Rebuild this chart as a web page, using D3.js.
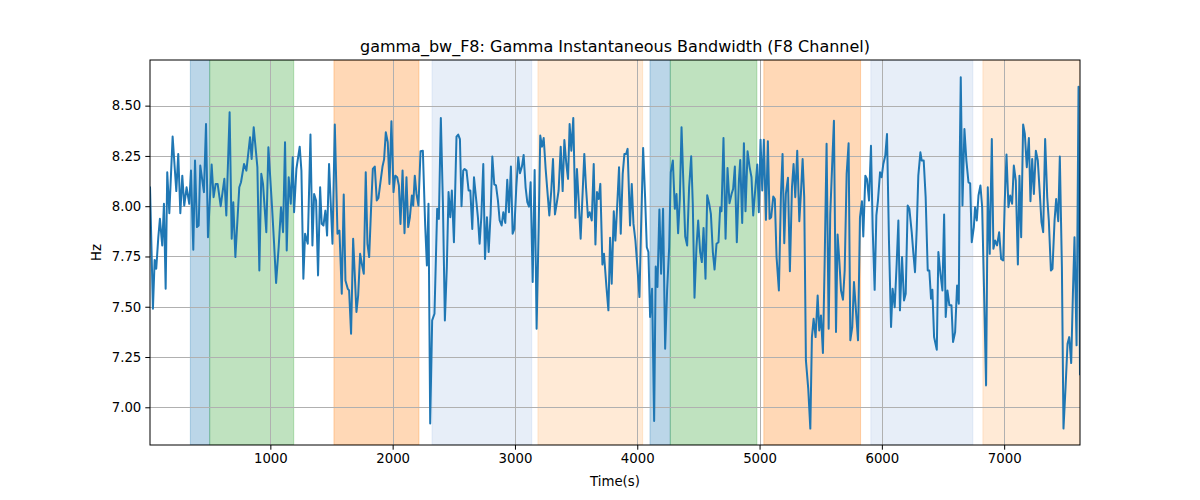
<!DOCTYPE html>
<html>
<head>
<meta charset="utf-8">
<script src="https://cdn.jsdelivr.net/npm/d3@7"></script>
<style>
  html, body { margin: 0; padding: 0; background: #fff; }
  svg { display: block; font-family: "DejaVu Sans", sans-serif; }
</style>
</head>
<body>
<svg id="chart" width="1200" height="500"></svg>
<script>
// ---- data ----
const times = [
16,40,54,67,84,97,116,130,144,157,174,201,231,247,264,280,296,315,337,351,370,384,400,414,427,457,474,490,520,536,553,569,594,624,640,667,684,697,714,746,760,785,804,834,847,864,894,910,926,940,967,984,1014,1030,1047,1068,1087,1104,1120,1134,1150,1167,1183,1194,1213,1240,1254,1270,1284,
1306,1328,1344,1358,1374,1390,1407,1420,1434,1450,1464,1480,1508,1527,1549,1565,1584,1600,1614,1633,1644,1660,1677,1704,1718,1734,1748,1764,1780,1794,1808,1824,1838,1854,1870,1884,1900,1917,1930,1944,1960,1974,1990,2007,2021,2037,2051,2064,2081,2097,2113,2127,2141,2157,2168,2181,2195,2211,2228,2247,2266,2280,2293,2307,2323,2342,2364,2378,2394,2411,2427,2443,2457,2471,2484,2501,2522,2536,2550,2563,2577,2588,
2604,2621,2635,2651,2665,2681,2697,2711,2725,2741,2755,2771,2785,2801,2815,2831,2845,2861,2875,2891,2905,2921,2937,2951,2967,2981,2995,3011,3027,3041,3057,3071,3087,3101,3115,3128,3145,3161,3177,3194,3207,3221,3235,3251,3267,3281,3297,3311,3327,3341,3357,3374,3390,3404,3420,3434,3447,3461,3477,3494,3507,3521,3537,3567,3581,3597,3611,3628,3644,3658,3671,3685,3698,3715,3728,3748,3764,3778,3791,3808,3821,3838,3851,
3865,3881,3895,3909,3921,3941,3955,3969,3985,4001,4018,4031,4048,4064,4078,4091,4105,4121,4138,4151,4165,4181,4195,4211,4228,4244,4261,4274,4291,4307,4321,4334,4348,4362,4378,4392,4408,4424,4441,4454,4468,4484,4498,4514,4528,4542,4558,4572,4588,4602,4618,4632,4648,4664,4678,4689,4705,4722,4738,4754,4771,4784,4798,4814,4831,4842,4858,4872,4885,4902,4918,4934,4948,4964,4981,4994,5008,5022,5035,5052,5068,5082,5095,5112,5125,
5139,5158,5175,5188,5202,5215,5232,5248,5265,5278,5292,5308,5325,5338,5352,5365,5379,5398,5415,5428,5442,5458,5475,5488,5502,5518,5532,5548,5565,5578,5595,5608,5625,5638,5652,5666,5682,5696,5712,5728,5742,5758,5772,5788,5805,5821,5837,5848,5865,5878,5895,5911,5925,5941,5955,5968,5985,5998,6012,6028,6042,6058,6075,6088,6105,6121,6135,6148,6165,6181,6195,6211,6225,6244,6258,6271,6285,6298,6315,6326,6342,6358,6375,6388,
6402,6413,6427,6449,6462,6479,6495,6509,6522,6536,6552,6569,6582,6599,6615,6629,6637,6645,6659,6675,6691,6708,6722,6735,6752,6762,6776,6790,6806,6820,6836,6852,6866,6882,6899,6912,6926,6942,6959,6975,6992,7005,7019,7035,7049,7065,7079,7095,7112,7125,7139,7155,7169,7185,7202,7215,7229,7243,7259,7275,7289,7305,7319,7335,7352,7365,7382,7395,7412,7425,7442,7455,7472,7485,7502,7518,7532,7548,7562,7575,7592,7608,7620
];
const values = [
8.098,7.490,7.733,7.689,7.846,7.937,7.805,8.012,7.589,8.169,7.965,8.346,8.075,8.260,7.965,8.152,8.003,8.094,8.012,8.177,7.783,8.227,7.896,7.904,8.202,8.070,8.409,7.846,8.207,8.045,8.111,8.111,8.000,8.136,7.954,8.467,7.838,8.020,7.747,8.094,8.119,8.210,8.177,8.343,8.235,8.392,8.194,7.680,8.161,8.111,7.871,8.293,7.995,7.821,7.618,7.796,7.995,7.871,8.318,7.780,8.144,8.012,8.243,7.970,8.185,8.296,8.177,7.639,7.863,
7.813,8.356,7.805,8.061,8.028,7.656,8.094,7.912,7.904,7.978,7.854,8.210,7.813,8.406,7.863,7.879,7.565,8.058,7.631,7.589,7.581,7.366,7.838,7.474,7.556,7.763,7.714,7.664,8.169,7.813,7.747,7.995,8.185,8.197,8.028,8.041,8.119,8.197,8.233,8.368,8.318,8.111,8.422,8.070,8.152,8.144,8.103,7.912,8.177,7.866,8.144,7.896,7.945,8.053,8.003,8.152,8.061,8.003,8.273,8.276,7.904,7.705,8.012,6.919,7.432,7.465,7.987,7.937,8.439,8.012,7.432,7.697,8.070,7.945,8.078,7.821,8.346,8.356,8.334,8.000,8.177,8.185,
8.177,8.078,8.078,7.887,8.144,8.045,7.945,7.813,7.945,8.210,7.738,7.945,7.772,7.962,8.247,8.108,8.103,8.028,7.929,7.904,7.970,7.917,8.131,7.970,8.197,7.863,7.887,8.094,8.243,8.164,8.197,8.255,8.094,8.020,7.998,8.119,7.623,8.180,7.391,7.896,8.351,8.296,8.339,8.185,8.061,7.954,8.078,8.235,7.959,8.012,8.078,8.296,8.075,8.329,8.210,8.136,8.409,8.276,8.439,7.942,8.185,8.028,7.838,8.260,8.094,7.945,7.970,7.929,8.210,7.810,8.070,8.036,8.111,7.710,7.763,7.598,7.482,7.843,7.614,7.975,7.829,8.028,8.194,
7.863,8.161,8.260,8.260,8.285,7.904,8.111,7.912,7.829,7.697,7.548,7.887,8.290,8.045,7.796,7.772,7.449,7.589,6.932,7.700,7.598,7.983,7.664,7.987,7.291,7.581,7.796,8.169,8.227,7.987,8.061,7.866,8.036,8.392,8.098,7.849,7.805,8.094,8.248,8.012,7.545,7.796,7.929,7.772,7.722,7.892,7.639,8.055,8.012,7.962,7.772,7.685,7.813,7.821,7.995,7.975,8.339,7.838,8.190,8.015,8.061,8.086,8.197,7.821,8.127,8.230,7.916,8.313,7.975,8.273,8.197,8.144,7.954,8.078,8.207,7.970,8.331,8.078,8.331,7.932,8.323,7.937,7.945,8.048,8.036,
7.747,7.581,8.061,8.260,7.816,8.061,8.141,7.677,8.094,8.210,8.045,8.276,7.925,8.061,8.235,8.045,7.233,7.093,6.894,7.349,7.440,7.349,7.556,7.382,7.457,7.270,7.714,8.310,7.391,7.962,8.227,8.425,7.374,7.859,7.730,7.581,7.535,7.680,8.161,8.313,7.333,7.399,7.623,7.482,7.333,7.945,8.025,7.849,8.152,8.136,8.028,8.301,7.887,7.584,7.954,8.028,8.169,8.144,8.210,8.252,8.359,7.829,7.399,7.589,7.498,7.714,7.929,7.482,7.747,7.531,7.565,8.003,7.987,7.871,7.763,7.672,7.887,8.152,8.268,8.227,8.227,8.045,7.680,7.680,
7.540,7.584,7.349,7.286,7.772,7.664,7.581,7.959,7.449,7.581,7.507,7.507,7.325,7.374,7.606,7.515,8.243,8.641,8.003,8.384,8.227,8.119,8.114,7.821,7.896,7.995,7.929,8.053,8.103,7.995,7.565,7.109,8.094,7.763,8.334,7.788,7.829,7.805,7.871,7.738,7.730,8.028,8.257,7.995,8.053,8.012,8.202,8.127,7.710,8.152,7.846,8.406,8.359,8.194,8.339,8.025,8.235,8.061,8.276,8.227,8.086,7.921,7.871,8.334,8.045,7.929,7.680,7.689,7.929,8.036,7.925,8.247,7.697,6.894,7.101,7.316,7.349,7.220,7.565,7.846,7.308,8.594,7.159
];
// shaded phases
const spanStarts = [346, 504, 1520, 2322, 3188, 4104, 4270, 5035, 5910, 6826];
const spanEnds   = [504, 1191, 2215, 3137, 4044, 4270, 4978, 5826, 6744, 7620];
const spanKinds  = ["blue","green","orange","lightblue","lightorange","blue","green","orange","lightblue","lightorange"];
const xTicks = [1000, 2000, 3000, 4000, 5000, 6000, 7000];
const yTicks = [7.00, 7.25, 7.50, 7.75, 8.00, 8.25, 8.50];
const titleText = "gamma_bw_F8: Gamma Instantaneous Bandwidth (F8 Channel)";
const xLabel = "Time(s)";
const yLabel = "Hz";

// ---- drawing ----
const spanColor = {blue:"#1f77b4", green:"#2ca02c", orange:"#ff7f0e", lightblue:"#aec7e8", lightorange:"#ffbb78"};
const L = 150, R = 1080, T = 60, B = 445;
const svg = d3.select("#chart");
const x = d3.scaleLinear().domain([times[0], times[times.length-1]]).range([L, R]);
const y = d3.scaleLinear().domain([6.8125, 8.727]).range([B, T]);

const data = times.map((t, i) => ({t, v: values[i]}));

svg.append("defs").append("clipPath").attr("id","clip")
  .append("rect").attr("x", L).attr("y", T).attr("width", R-L).attr("height", B-T);

const plot = svg.append("g").attr("clip-path","url(#clip)");

// spans
plot.selectAll("rect.span").data(spanStarts.map((s,i)=>({s, e: spanEnds[i], k: spanKinds[i]})))
  .enter().append("rect")
  .attr("x", d => x(d.s)).attr("width", d => x(d.e) - x(d.s))
  .attr("y", T).attr("height", B - T)
  .attr("fill", d => spanColor[d.k]).attr("fill-opacity", 0.3)
  .attr("stroke", d => spanColor[d.k]).attr("stroke-opacity", 0.3).attr("stroke-width", 1);

// grid
plot.selectAll("line.gx").data(xTicks).enter().append("line")
  .attr("x1", d => Math.round(x(d)) + 0.5).attr("x2", d => Math.round(x(d)) + 0.5)
  .attr("y1", T).attr("y2", B).attr("stroke", "#b0b0b0").attr("stroke-width", 1);
plot.selectAll("line.gy").data(yTicks).enter().append("line")
  .attr("y1", d => Math.round(y(d)) + 0.5).attr("y2", d => Math.round(y(d)) + 0.5)
  .attr("x1", L).attr("x2", R).attr("stroke", "#b0b0b0").attr("stroke-width", 1);

// line
plot.append("path").datum(data)
  .attr("d", d3.line().x(d => x(d.t)).y(d => y(d.v)))
  .attr("fill", "none").attr("stroke", "#1f77b4").attr("stroke-width", 2)
  .attr("stroke-linejoin", "round").attr("stroke-linecap", "butt");

// axes
const xAxis = svg.append("g").attr("transform", `translate(0,${B})`)
  .call(d3.axisBottom(x).tickValues(xTicks).tickSize(4.7).tickPadding(4).tickFormat(d3.format("d")));
const yAxis = svg.append("g").attr("transform", `translate(${L},0)`)
  .call(d3.axisLeft(y).tickValues(yTicks).tickSize(4.7).tickPadding(4).tickFormat(d3.format(".2f")));
[xAxis, yAxis].forEach(g => {
  g.select(".domain").remove();
  g.selectAll("text").attr("font-size", "13.3px").attr("font-family", "DejaVu Sans, sans-serif").attr("fill", "#000");
  g.selectAll("line").attr("stroke", "#000").attr("stroke-width", 1);
});

// spines
svg.append("rect").attr("x", L).attr("y", T).attr("width", R - L).attr("height", B - T)
  .attr("fill", "none").attr("stroke", "#000").attr("stroke-width", 1);

// texts
svg.append("text").attr("x", (L + R) / 2).attr("y", 52).attr("text-anchor", "middle")
  .attr("font-size", "16px").attr("fill", "#000").text(titleText);
svg.append("text").attr("x", (L + R) / 2).attr("y", 486).attr("text-anchor", "middle")
  .attr("font-size", "13.3px").attr("fill", "#000").text(xLabel);
svg.append("text").attr("transform", `translate(101,${(T + B) / 2}) rotate(-90)`).attr("text-anchor", "middle")
  .attr("font-size", "13.3px").attr("fill", "#000").text(yLabel);
</script>
</body>
</html>
